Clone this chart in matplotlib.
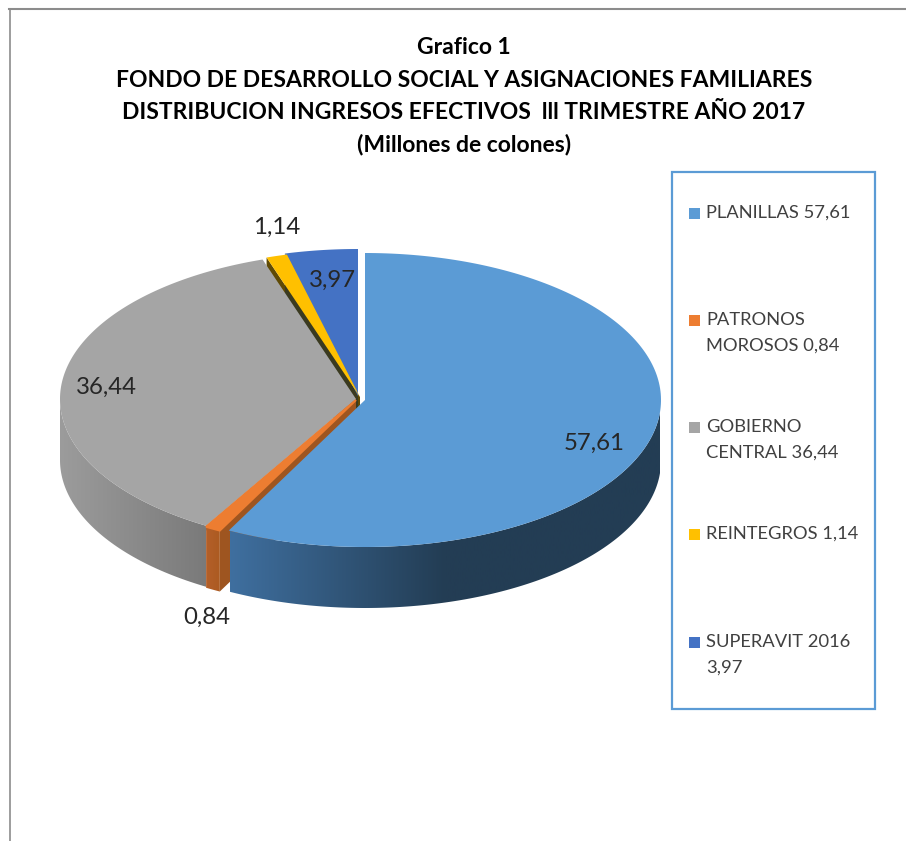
import numpy as np
import matplotlib
matplotlib.use("Agg")
import matplotlib.pyplot as plt
from matplotlib.colors import LinearSegmentedColormap
from matplotlib.patches import Polygon, Rectangle

# Data
categories = ["PLANILLAS", "PATRONOS MOROSOS", "GOBIERNO CENTRAL", "REINTEGROS", "SUPERAVIT 2016"]
values = [57.61, 0.84, 36.44, 1.14, 3.97]
value_labels = ["57,61", "0,84", "36,44", "1,14", "3,97"]
top_colors = ["#5b9bd5", "#ed7d31", "#a5a5a5", "#ffc000", "#4472c4"]
legend_lines = [["PLANILLAS 57,61"], ["PATRONOS", "MOROSOS 0,84"], ["GOBIERNO", "CENTRAL 36,44"],
                ["REINTEGROS 1,14"], ["SUPERAVIT 2016", "3,97"]]
title_lines = ["Grafico 1",
               "FONDO DE DESARROLLO SOCIAL Y ASIGNACIONES FAMILIARES",
               "DISTRIBUCION INGRESOS EFECTIVOS  lll TRIMESTRE AÑO 2017",
               "(Millones de colones)"]

plt.rcParams['font.family'] = ['Lato', 'DejaVu Sans']

# Pixel space axes, same size as the picture
fig = plt.figure(figsize=(9.06, 8.41), dpi=100)
ax = fig.add_axes([0, 0, 1, 1])
ax.set_axis_off()

# Pie geometry
cx, cy = 358, 400
rx, ry = 296, 147
depth = 61
shifts = [(7, 0), (-2, 0), (-2, -1), (2, -3), (0, -4)]

edges = np.concatenate([[0], np.cumsum(values)]) / np.sum(values) * 2 * np.pi


def arc(i, a0=None, a1=None):
    a0 = edges[i] if a0 is None else a0
    a1 = edges[i + 1] if a1 is None else a1
    t = np.linspace(a0, a1, 200)
    dx, dy = shifts[i]
    return np.column_stack([cx + dx + rx * np.sin(t), cy + dy - ry * np.cos(t)])


def apex(i):
    return np.array([cx + shifts[i][0], cy + shifts[i][1]])


def top(i, lw=0):
    ec = top_colors[i] if lw else 'none'
    ax.add_patch(Polygon(np.vstack([apex(i), arc(i)]), closed=True, fc=top_colors[i], ec=ec, lw=lw))


def radial_face(i, angle, color, d=depth):
    pts = arc(i, angle, angle)[:1]
    a = apex(i)
    quad = np.array([a, pts[0], pts[0] + [0, d], a + [0, d]])
    ax.add_patch(Polygon(quad, closed=True, fc=color, ec='none'))


def wall(i, a0, a1, color_stops, x0, x1):
    # Outer wall, shaded from left to right
    upper = arc(i, a0, a1)
    lower = upper[::-1] + [0, depth]
    patch = Polygon(np.vstack([upper, lower]), closed=True, fc='none', ec='none')
    ax.add_patch(patch)
    cmap = LinearSegmentedColormap.from_list("wall", color_stops)
    im = ax.imshow(np.linspace(0, 1, 256)[None, :], extent=(x0, x1, cy + 300, cy - 300),
                   cmap=cmap, aspect='auto')
    im.set_clip_path(patch)
    im.set_zorder(patch.get_zorder())


# Back slices first, the front ones are painted over them
radial_face(3, edges[3], "#5f4a05")
radial_face(4, edges[4], "#3a3a20")
top(4)
top(3)

wall(2, np.pi * 1.5, edges[2], ["#9c9c9c", "#7a7a7a"], 59, 207)
radial_face(2, edges[2], "#7c7c7c", d=5)
top(2)

radial_face(1, edges[1], "#9e5520")
wall(1, edges[1], edges[2], ["#b5602a", "#a9591f"], 205, 224)
top(1, lw=1.5)

wall(0, np.pi / 2, edges[1], ["#3f6f9f", "#233d54", "#233d54"], 230, 660)
top(0)

# Data labels
label_pos = [(594, 443), (207, 617), (106, 387), (277, 227), (333, 280)]
for txt, (x, y) in zip(value_labels, label_pos):
    ax.text(x, y, txt, fontsize=17.3, color='#262626', ha='center', va='center')

# Title
title_y = [47, 80, 112, 144]
for line, y in zip(title_lines, title_y):
    ax.text(464, y, line, fontsize=16.5, fontweight='bold', color='black', ha='center', va='center')

# Legend box
ax.add_patch(Rectangle((672, 172), 203, 537, fc='white', ec='#5b9bd5', lw=1.6))
legend_y = [213, 320, 427, 534, 642]
for lines, y, color in zip(legend_lines, legend_y, top_colors):
    ax.add_patch(Rectangle((689, y - 5.5), 11, 11, fc=color, ec='none'))
    for k, line in enumerate(lines):
        ax.text(706, y + k * 26, line, fontsize=13.2, color='#404040', ha='left', va='center')

# Frame of the sheet
ax.plot([9.5, 9.5], [841, 9], color='#8c8c8c', lw=1.2)
ax.plot([9, 906], [9, 9], color='#8c8c8c', lw=1.5)

ax.set_xlim(0, 906)
ax.set_ylim(841, 0)
fig.savefig('out.png', dpi=100)
plt.close()
